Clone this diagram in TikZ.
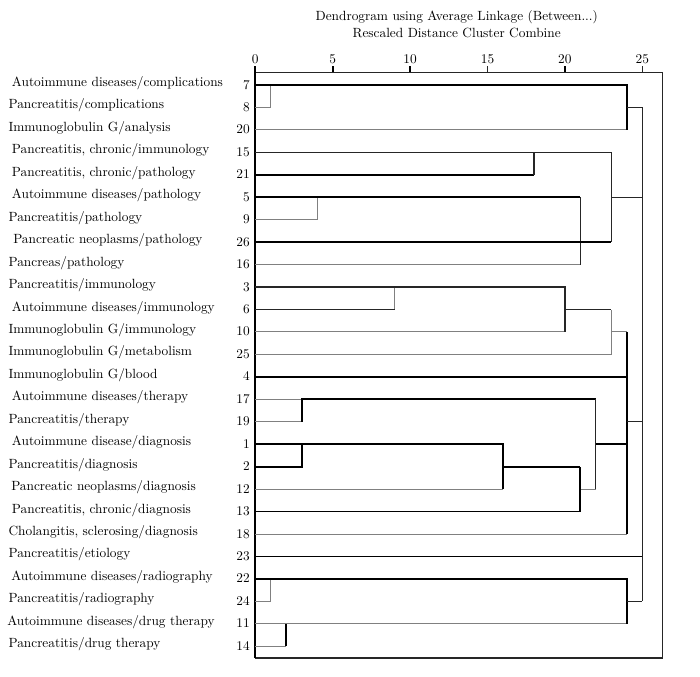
\documentclass[tikz,border=0pt]{standalone}
\usepackage{tikz}

\tikzset{
  heavyln/.style={line width=1.4pt,black},
  midln/.style={line width=0.9pt,black!85},
  greyln/.style={line width=0.7pt,black!50},
  leaf/.style={anchor=base west,inner sep=0pt},
  idx/.style={anchor=base east,inner sep=0pt}
}

\begin{document}
\begin{tikzpicture}[x=0.75pt,y=-0.75pt]
\useasboundingbox (0,0) rectangle (700,676);

% heading
\node[anchor=base] (title) at (456.7,20) {Dendrogram using Average Linkage (Between...)};
\node[anchor=base] (subtitle) at (456.7,37.5) {Rescaled Distance Cluster Combine};

% leaf names and case numbers, one row each
\foreach \num/\lbl/\lx [count=\r from 0] in {
  7/{Autoimmune diseases/complications}/11.7,
  8/{Pancreatitis/complications}/8.3,
  20/{Immunoglobulin G/analysis}/8.3,
  15/{Pancreatitis, chronic/immunology}/11.7,
  21/{Pancreatitis, chronic/pathology}/11.7,
  5/{Autoimmune diseases/pathology}/11.7,
  9/{Pancreatitis/pathology}/8.3,
  26/{Pancreatic neoplasms/pathology}/13,
  16/{Pancreas/pathology}/8.3,
  3/{Pancreatitis/immunology}/8.3,
  6/{Autoimmune diseases/immunology}/11.7,
  10/{Immunoglobulin G/immunology}/8.3,
  25/{Immunoglobulin G/metabolism}/8.3,
  4/{Immunoglobulin G/blood}/8.3,
  17/{Autoimmune diseases/therapy}/11.7,
  19/{Pancreatitis/therapy}/8.3,
  1/{Autoimmune disease/diagnosis}/11.7,
  2/{Pancreatitis/diagnosis}/8.3,
  12/{Pancreatic neoplasms/diagnosis}/11,
  13/{Pancreatitis, chronic/diagnosis}/11.7,
  18/{Cholangitis, sclerosing/diagnosis}/8.3,
  23/{Pancreatitis/etiology}/8.3,
  22/{Autoimmune diseases/radiography}/11,
  24/{Pancreatitis/radiography}/8.3,
  11/{Autoimmune diseases/drug therapy}/7,
  14/{Pancreatitis/drug therapy}/8.3}
{
  \node[leaf] (lbl\num) at (\lx,{86.5+22.45*\r}) {\lbl};
  \node[idx] (idx\num) at (250,{89+22.45*\r}) {\num};
}

% tree: x = rescaled distance, y = row
\begin{scope}[shift={(191.475pt,-63.75pt)},x=11.61pt,y=-16.8375pt]
  % scale
  \foreach \t in {0,5,...,25}
    \node[anchor=base] (tick\t) at (\t,-0.98) {\t};
  \foreach \t in {5,10,20}
    \draw[heavyln] (\t,-0.846) -- (\t,-0.557);
  \foreach \t in {15,25}
    \draw[midln] (\t,-0.846) -- (\t,-0.557);
  \draw[midln] (0,-0.557) rectangle (26.32,25.52);
  \draw[heavyln] (0,-0.846) -- (0,25.52);

  % 7, 8, 20
  \draw[greyln] (0,1) -| (1,0);
  \draw[greyln] (0,2) -- (24,2);
  \draw[heavyln] (0,0) -- (24,0) -- (24,2);
  \draw[midln] (24,1) -- (25,1);

  % 15, 21, 5, 9, 26, 16
  \draw[greyln] (0,6) -| (4,5);
  \draw[greyln] (0,8) -- (21,8);
  \draw[midln] (0,3) -- (23,3);
  \draw[heavyln] (0,4) -- (18,4);
  \draw[midln] (18,3) -- (18,4);
  \draw[heavyln] (0,5) -- (21,5);
  \draw[midln] (21,5) -- (21,8);
  \draw[heavyln] (0,7) -- (23,7);
  \draw[midln] (23,3) -- (23,7);
  \draw[midln] (23,5) -- (25,5);

  % 3, 6, 10, 25, 4
  \draw[greyln] (0,11) -- (20,11);
  \draw[greyln] (9,9) -- (9,10);
  \draw[greyln] (0,12) -- (23,12) -- (23,10);
  \draw[greyln] (23,11) -- (24,11);
  \draw[midln] (0,10) -- (9,10);
  \draw[midln] (0,9) -- (20,9) -- (20,11);
  \draw[midln] (20,10) -- (23,10);
  \draw[heavyln] (0,13) -- (24,13);

  % 17, 19, 1, 2, 12, 13, 18
  \draw[greyln] (0,14) -- (3,14);
  \draw[greyln] (0,15) -- (3,15);
  \draw[greyln] (0,18) -- (16,18);
  \draw[greyln] (21,18) -- (22,18);
  \draw[greyln] (0,20) -- (24,20);
  \draw[heavyln] (3,15) -- (3,14) -- (22,14);
  \draw[midln] (22,14) -- (22,18);
  \draw[heavyln] (0,17) -| (3,16);
  \draw[heavyln] (0,16) -- (16,16) -- (16,18);
  \draw[heavyln] (16,17) -- (21,17);
  \draw[heavyln] (0,19) -| (21,17);
  \draw[heavyln] (22,16) -- (24,16);
  \draw[heavyln] (24,11) -- (24,20);
  \draw[midln] (24,15) -- (25,15);

  % 23
  \draw[heavyln] (0,21) -- (25,21);

  % 22, 24, 11, 14
  \draw[greyln] (0,23) -| (1,22);
  \draw[greyln] (0,24) -- (24,24);
  \draw[greyln] (0,25) -- (2,25);
  \draw[heavyln] (2,25) -- (2,24);
  \draw[heavyln] (0,22) -- (24,22) -- (24,24);
  \draw[midln] (24,23) -- (25,23);

  % last join
  \draw[midln] (25,1) -- (25,23);
\end{scope}
\end{tikzpicture}
\end{document}
